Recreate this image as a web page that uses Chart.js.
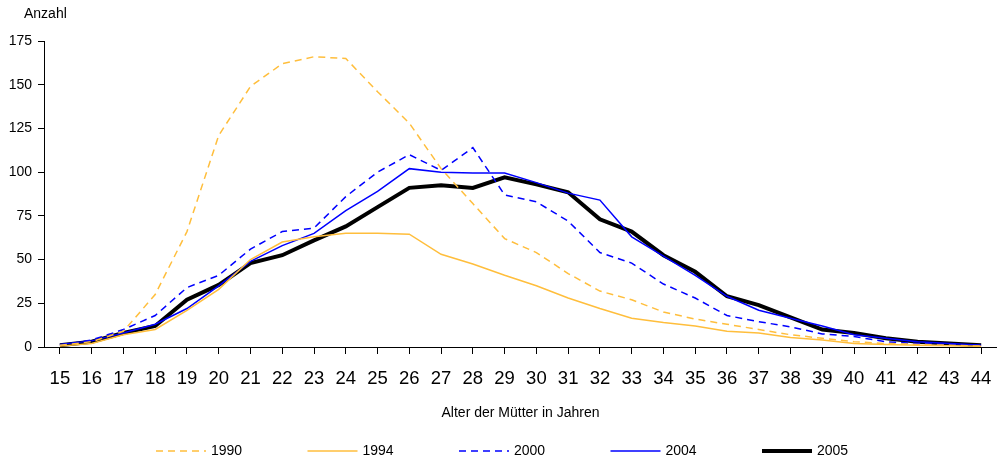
<!DOCTYPE html>
<html>
<head>
<meta charset="utf-8">
<script src="https://cdn.jsdelivr.net/npm/chart.js@4/dist/chart.umd.min.js"></script>
<style>
html, body { margin: 0; padding: 0; background: #fff; }
</style>
</head>
<body>
<canvas id="canvasBirths" width="997" height="463"></canvas>
<script>
// Alter der Mütter (Kategorien)
var ageList = [15, 16, 17, 18, 19, 20, 21, 22, 23, 24, 25, 26, 27, 28, 29,
	30, 31, 32, 33, 34, 35, 36, 37, 38, 39, 40, 41, 42, 43, 44];

// Anzahl je Jahrgang
var births1990 = [1, 3, 9, 30, 66, 121, 149, 162, 166, 165, 146, 128, 102, 82, 62,
	54, 42, 32, 27, 20, 16, 13, 10, 7, 5, 3, 2, 1.5, 1, 0.5];
var births1994 = [0.5, 2, 7, 10, 21, 33, 50, 60, 63, 65, 65, 64.5, 53, 47.5, 41,
	35, 28, 22, 16.5, 14, 12, 9, 8, 5.5, 4, 2, 1.5, 1, 0.7, 0.5];
var births2000 = [1, 4, 10, 18, 34, 41, 56, 66, 68, 86, 100, 110, 101, 114, 87,
	83, 72, 54, 48, 36, 28, 18, 14.5, 11.5, 7.5, 6, 3, 2, 1.5, 1];
var births2004 = [1.5, 3.5, 8, 13, 22, 35, 49, 58, 65, 78, 89, 102, 100, 99.5, 99.5,
	94, 88, 84, 63, 52, 41, 29, 21, 16.5, 12, 7, 5, 3, 2, 1];
var births2005 = [1, 3, 8, 12, 27, 35.5, 48, 52.5, 61, 69, 80, 91, 92.5, 91, 97,
	93, 88.5, 73, 66, 52.5, 43, 29, 24, 17, 10, 8, 5, 3, 2, 1];

var yearLabels = ['1990', '1994', '2000', '2004', '2005'];
var yTicks = [0, 25, 50, 75, 100, 125, 150, 175];

var fontFamily = '"Liberation Sans", Arial, sans-serif';
var orange = '#FFBE3C';
var blue = '#0000FF';

function $each(list, fn) {
	for (var i = 0; i < list.length; i++) fn(i, list[i]);
}

/***********************************************************************************************
 * Legende unten + Achsentitel "Anzahl"
 ***********************************************************************************************/
var bottomLegend = {
	id: 'bottomLegend',
	afterDraw: function(chart) {
		var ctx = chart.ctx;
		ctx.save();
		ctx.font = '14px ' + fontFamily;
		ctx.fillStyle = '#000';
		ctx.textBaseline = 'middle';
		ctx.textAlign = 'left';
		ctx.fillText('Anzahl', 24, 14);

		var legendY = 451;
		$each(chart.data.datasets, function(index, ds) {
			var x0 = 156 + index * 151.5;
			ctx.beginPath();
			ctx.strokeStyle = ds.borderColor;
			ctx.lineWidth = ds.borderWidth;
			ctx.setLineDash(ds.borderDash || []);
			ctx.moveTo(x0, legendY);
			ctx.lineTo(x0 + 50, legendY);
			ctx.stroke();
			ctx.setLineDash([]);
			ctx.fillText(ds.label, x0 + 55, legendY);
		});
		ctx.restore();
	}
};

var config = new Chart(document.getElementById('canvasBirths'), {
	type: 'line',
	data: {
		labels: ageList,
		datasets: [{
			label: yearLabels[0],
			data: births1990,
			borderColor: orange,
			borderWidth: 1.5,
			borderDash: [7, 5]
		}, {
			label: yearLabels[1],
			data: births1994,
			borderColor: orange,
			borderWidth: 1.5
		}, {
			label: yearLabels[2],
			data: births2000,
			borderColor: blue,
			borderWidth: 1.5,
			borderDash: [7, 5]
		}, {
			label: yearLabels[3],
			data: births2004,
			borderColor: blue,
			borderWidth: 1.5
		}, {
			label: yearLabels[4],
			data: births2005,
			borderColor: '#000',
			borderWidth: 4
		}]
	},
	options: {
		responsive: false,
		animation: false,
		layout: {
			padding: { top: 41, left: 0, right: 0, bottom: 30 }
		},
		elements: {
			point: { radius: 0 },
			line: { tension: 0, fill: false }
		},
		plugins: {
			legend: { display: false },
			tooltip: { enabled: false }
		},
		scales: {
			x: {
				type: 'category',
				offset: true,
				afterFit: function(scale) {
					scale.height = 86;
					scale.paddingLeft = 0;
					scale.paddingRight = 0;
				},
				border: { display: true, color: '#000', width: 1 },
				grid: {
					offset: false,
					drawOnChartArea: false,
					drawTicks: true,
					tickLength: 7,
					color: '#000'
				},
				ticks: {
					color: '#000',
					padding: 14,
					maxRotation: 0,
					autoSkip: false,
					font: { family: fontFamily, size: 18.5 }
				},
				title: {
					display: true,
					text: 'Alter der Mütter in Jahren',
					color: '#000',
					padding: { top: 0, bottom: 11 },
					font: { family: fontFamily, size: 14 }
				}
			},
			y: {
				min: 0,
				max: 175,
				afterFit: function(scale) { scale.width = 44; },
				afterBuildTicks: function(scale) {
					scale.ticks = yTicks.map(function(v) { return { value: v }; });
				},
				border: { display: true, color: '#000', width: 1 },
				grid: {
					drawOnChartArea: false,
					drawTicks: true,
					tickLength: 6,
					color: '#000'
				},
				ticks: {
					color: '#000',
					padding: 6,
					font: { family: fontFamily, size: 14 }
				}
			}
		}
	},
	plugins: [bottomLegend]
});
</script>
</body>
</html>
